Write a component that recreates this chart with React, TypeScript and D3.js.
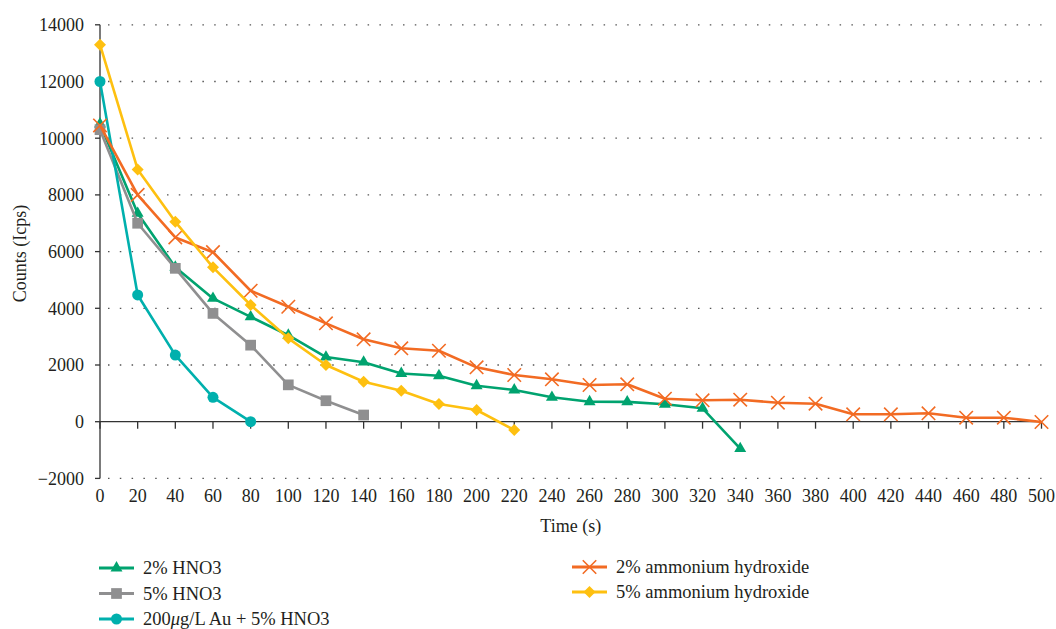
import React, { useEffect, useRef } from "react";
import * as d3 from "d3";

const times = d3.range(0, 501, 20);

const hno3_2 = [10500, 7350, 5450, 4350, 3700, 3050, 2280, 2100, 1700, 1620, 1270, 1120, 860, 705, 700, 613, 472, -950];
const hno3_5 = [10300, 7000, 5410, 3820, 2700, 1300, 740, 236];
const auHno3 = [12000, 4470, 2350, 860, 0];
const ammonium_2 = [10450, 8000, 6500, 5980, 4620, 4056, 3470, 2906, 2589, 2504, 1918, 1647, 1495, 1294, 1319, 811, 755, 776, 670, 635, 261, 261, 296, 141, 141, -10];
const ammonium_5 = [13300, 8900, 7050, 5446, 4116, 2941, 2000, 1411, 1094, 624, 413, -293];

const yTicks = [-2000, 0, 2000, 4000, 6000, 8000, 10000, 12000, 14000];

type Series = { name: string[]; values: number[]; color: string; shape: string };

// name parts: odd entries are drawn in italics
const series: Series[] = [
  { name: ["2% HNO3"], values: hno3_2, color: "#00a36f", shape: "triangle" },
  { name: ["5% HNO3"], values: hno3_5, color: "#8f8f90", shape: "square" },
  { name: ["200", "\u03bc", "g/L Au + 5% HNO3"], values: auHno3, color: "#00b0ad", shape: "circle" },
  { name: ["2% ammonium hydroxide"], values: ammonium_2, color: "#f26b23", shape: "x" },
  { name: ["5% ammonium hydroxide"], values: ammonium_5, color: "#fec010", shape: "diamond" },
];

const FONT = "'Liberation Serif', 'DejaVu Serif', serif";

function symbolPath(shape: string) {
  if (shape === "triangle") return d3.symbol(d3.symbolTriangle, 62)();
  if (shape === "square") return d3.symbol(d3.symbolSquare, 115)();
  if (shape === "circle") return d3.symbol(d3.symbolCircle, 95)();
  if (shape === "x") return d3.symbol(d3.symbolX, 120)();
  return "M0,-6L6,0L0,6L-6,0Z";
}

function App() {
  const svgRef = useRef<SVGSVGElement | null>(null);

  useEffect(() => {
    drawChart();
  }, []);

  const drawChart = () => {
    const svg = d3.select(svgRef.current);
    svg.selectAll("*").remove();

    const x = d3.scaleLinear().domain([0, 500]).range([100, 1041.5]);
    const y = d3.scaleLinear().domain([-2000, 14000]).range([478.4, 24.8]);

    // dotted gridlines
    svg
      .append("g")
      .selectAll("line")
      .data(yTicks.filter((t) => t !== 0))
      .enter()
      .append("line")
      .attr("x1", 108)
      .attr("x2", x(500))
      .attr("y1", (d) => y(d))
      .attr("y2", (d) => y(d))
      .attr("stroke", "#555")
      .attr("stroke-width", 1.3)
      .attr("stroke-dasharray", "1.5,10.3");

    // y axis
    const yAxis = svg.append("g").attr("font-family", FONT).attr("font-size", 18).attr("fill", "#231f20");
    yAxis
      .append("line")
      .attr("x1", x(0))
      .attr("x2", x(0))
      .attr("y1", y(14000))
      .attr("y2", y(-2000))
      .attr("stroke", "#333")
      .attr("stroke-width", 1.3);
    yTicks.forEach((t) => {
      yAxis
        .append("line")
        .attr("x1", x(0) - 5)
        .attr("x2", x(0))
        .attr("y1", y(t))
        .attr("y2", y(t))
        .attr("stroke", "#333")
        .attr("stroke-width", 1.3);
      yAxis
        .append("text")
        .attr("x", 84)
        .attr("y", y(t))
        .attr("dy", "0.35em")
        .attr("text-anchor", "end")
        .text(t < 0 ? "\u2212" + Math.abs(t) : String(t));
    });
    yAxis
      .append("text")
      .attr("transform", `translate(26,${(y(14000) + y(-2000)) / 2 + 2}) rotate(-90)`)
      .attr("text-anchor", "middle")
      .attr("font-size", 18)
      .text("Counts (Icps)");

    // x axis
    const xAxis = svg.append("g").attr("font-family", FONT).attr("font-size", 18).attr("fill", "#231f20");
    xAxis
      .append("line")
      .attr("x1", x(0))
      .attr("x2", x(500))
      .attr("y1", y(0))
      .attr("y2", y(0))
      .attr("stroke", "#333")
      .attr("stroke-width", 1.3);
    times.forEach((t) => {
      xAxis
        .append("line")
        .attr("x1", x(t))
        .attr("x2", x(t))
        .attr("y1", y(0))
        .attr("y2", y(0) + 7)
        .attr("stroke", "#333")
        .attr("stroke-width", 1.3);
      xAxis
        .append("text")
        .attr("x", x(t))
        .attr("y", 502)
        .attr("text-anchor", "middle")
        .text(String(t));
    });
    xAxis
      .append("text")
      .attr("x", (x(0) + x(500)) / 2)
      .attr("y", 532)
      .attr("text-anchor", "middle")
      .attr("font-size", 18)
      .text("Time (s)");

    // series
    const line = d3
      .line<number>()
      .x((_, i) => x(times[i]))
      .y((d) => y(d));

    series.forEach((s) => {
      const g = svg.append("g");
      g.append("path")
        .datum(s.values)
        .attr("fill", "none")
        .attr("stroke", s.color)
        .attr("stroke-width", 2.6)
        .attr("stroke-linejoin", "round")
        .attr("d", line);
      g.selectAll(".pt")
        .data(s.values)
        .enter()
        .append("path")
        .attr("class", "pt")
        .attr("transform", (d, i) => `translate(${x(times[i])},${y(d)})`)
        .attr("d", symbolPath(s.shape))
        .attr("fill", s.shape === "x" ? "none" : s.color)
        .attr("stroke", s.shape === "x" ? s.color : "none")
        .attr("stroke-width", 1.6);
    });

    // legend
    const legendPos = [
      { x: 99, y: 568 },
      { x: 99, y: 593.5 },
      { x: 99, y: 619 },
      { x: 572, y: 567 },
      { x: 572, y: 592 },
    ];
    const legend = svg.append("g").attr("font-family", FONT).attr("font-size", 18.5).attr("fill", "#231f20");
    series.forEach((s, i) => {
      const p = legendPos[i];
      const item = legend.append("g").attr("transform", `translate(${p.x},${p.y})`);
      item
        .append("line")
        .attr("x1", 0)
        .attr("x2", 35)
        .attr("stroke", s.color)
        .attr("stroke-width", 3);
      item
        .append("path")
        .attr("transform", "translate(17.5,0)")
        .attr("d", symbolPath(s.shape))
        .attr("fill", s.shape === "x" ? "none" : s.color)
        .attr("stroke", s.shape === "x" ? s.color : "none")
        .attr("stroke-width", 1.6);
      const text = item.append("text").attr("x", 44).attr("y", 0).attr("dy", "0.35em");
      s.name.forEach((part, j) => {
        text
          .append("tspan")
          .attr("font-style", j % 2 === 1 ? "italic" : "normal")
          .text(part);
      });
    });
  };

  return (
    <div>
      <svg
        ref={svgRef}
        width={1056}
        height={629}
        style={{ position: "absolute", left: 0, top: 0, background: "#fff" }}
      />
    </div>
  );
}

export default App;
